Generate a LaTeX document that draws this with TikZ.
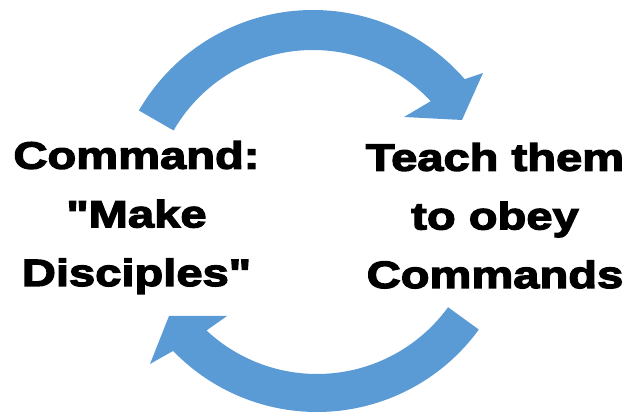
\documentclass[tikz,border=0pt]{standalone}
\usepackage{fontspec}
\newfontfamily\blackfont[FakeBold=3.5,FakeStretch=1.24]{Liberation Sans Bold}

\tikzset{every picture/.style={line width=0.75pt}}
\definecolor{cyclearrow}{RGB}{91,155,213}
\tikzset{
  cyclefill/.style={fill=cyclearrow, draw=none},
  cycletext/.style={align=center, inner sep=0pt, anchor=base,
    font=\blackfont\fontsize{28.5}{44}\selectfont},
}

\begin{document}
\begin{tikzpicture}[x=0.75pt,y=0.75pt,yscale=-1,xscale=1]
	\useasboundingbox (0,0) rectangle (637,416);
	
	%Shape: Circular Arrow (top)
	\begin{scope}[shift={(313,211)}]
		\fill[cyclefill] (-150:201) arc[start angle=-150, end angle=-41, radius=201]
			-- (170,-138) -- (149,-91) -- (91,-94)
			-- (-43:161) arc[start angle=-43, end angle=-150, radius=161] -- cycle ;
	\end{scope}
	%Shape: Circular Arrow (bottom)
	\begin{scope}[shift={(317,212)}]
		\fill[cyclefill] (36:200) arc[start angle=36, end angle=136, radius=200]
			-- (-167,152) -- (-148,104) -- (-90,104)
			-- (133:162) arc[start angle=133, end angle=36, radius=162] -- cycle ;
	\end{scope}
	
	% Text Node
	\node[cycletext] (command) at (136.5,286) {Command:\\"Make\\Disciples"};
	% Text Node
	\node[cycletext] (teach) at (495,288) {Teach them\\to obey\\Commands};
	
\end{tikzpicture}
\end{document}
